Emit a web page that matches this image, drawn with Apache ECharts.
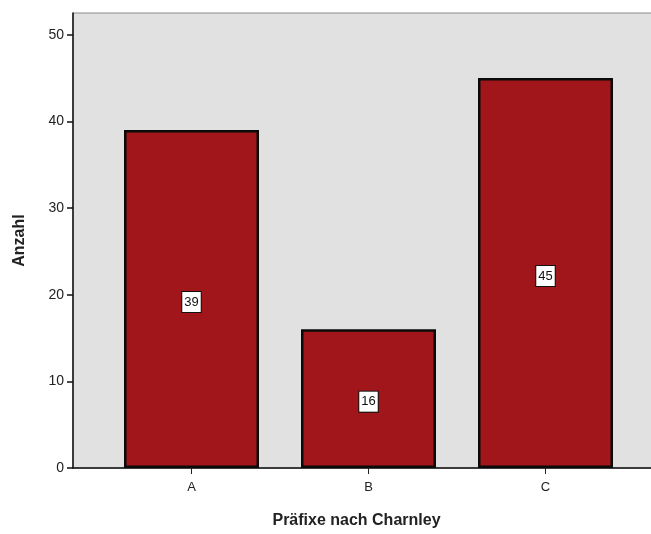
<!DOCTYPE html>
<html>
<head>
<meta charset="utf-8">
<script src="https://cdn.jsdelivr.net/npm/echarts@6/dist/echarts.min.js"></script>
<style>
  html, body { margin: 0; padding: 0; background: #fff; }
  #chart { width: 651px; height: 534px; }
</style>
</head>
<body>
<div id="chart"></div>
<script>
// Häufigkeiten der Präfixe nach Charnley
const categories = ['A', 'B', 'C'];
const counts = [39, 16, 45];
const yTicks = [0, 10, 20, 30, 40, 50];
const yMax = 52.5;

const font = 'Liberation Sans, Arial, sans-serif';
const chart = echarts.init(document.getElementById('chart'), null, { renderer: 'canvas' });

chart.setOption({
  animation: false,
  grid: [
    // bar area
    { left: 103, width: 531, top: 13, bottom: 66, show: false, outerBoundsMode: 'none', containLabel: false },
    // plot frame with grey background
    { left: 73, right: -1, top: 13, bottom: 66, show: true, outerBoundsMode: 'none', containLabel: false,
      backgroundColor: '#e1e1e1', borderColor: '#8a8a8a', borderWidth: 1 }
  ],
  xAxis: [
    { type: 'category', gridIndex: 0, data: categories,
      axisLine: { show: false },
      axisTick: { show: true, alignWithLabel: true, length: 6, lineStyle: { color: '#222', width: 1 } },
      axisLabel: { color: '#222', fontFamily: font, fontSize: 13, margin: 13 } },
    { type: 'value', gridIndex: 1, min: 0, max: 1,
      axisLine: { show: true, onZero: false, lineStyle: { color: '#111', width: 1.5 } },
      axisTick: { show: false }, axisLabel: { show: false }, splitLine: { show: false },
      name: 'Präfixe nach Charnley', nameLocation: 'middle', nameGap: 45,
      nameTextStyle: { color: '#222', fontFamily: font, fontSize: 16, fontWeight: 'bold', padding: [0, 12, 0, 0] } }
  ],
  yAxis: [
    { type: 'value', gridIndex: 0, min: 0, max: yMax, show: false },
    { type: 'value', gridIndex: 1, min: 0, max: yMax, interval: 10,
      axisLine: { show: true, lineStyle: { color: '#111', width: 1.5 } },
      axisTick: { show: true, length: 6, customValues: yTicks, lineStyle: { color: '#111', width: 1.5 } },
      axisLabel: { color: '#222', fontFamily: font, fontSize: 14, margin: 9, customValues: yTicks },
      splitLine: { show: false },
      name: 'Anzahl', nameLocation: 'middle', nameGap: 45, nameRotate: 90,
      nameTextStyle: { color: '#222', fontFamily: font, fontSize: 16, fontWeight: 'bold' } }
  ],
  series: [{
    type: 'bar',
    xAxisIndex: 0, yAxisIndex: 0,
    data: counts,
    barWidth: 135,
    itemStyle: { color: '#a1161a', borderColor: '#0a0a0a', borderWidth: 2.5 },
    label: {
      show: true, position: 'inside', offset: [0, 3],
      color: '#111', fontFamily: font, fontSize: 13,
      backgroundColor: '#ffffff', borderColor: '#111', borderWidth: 1,
      padding: [4, 2, 3, 2]
    }
  }]
});
</script>
</body>
</html>
